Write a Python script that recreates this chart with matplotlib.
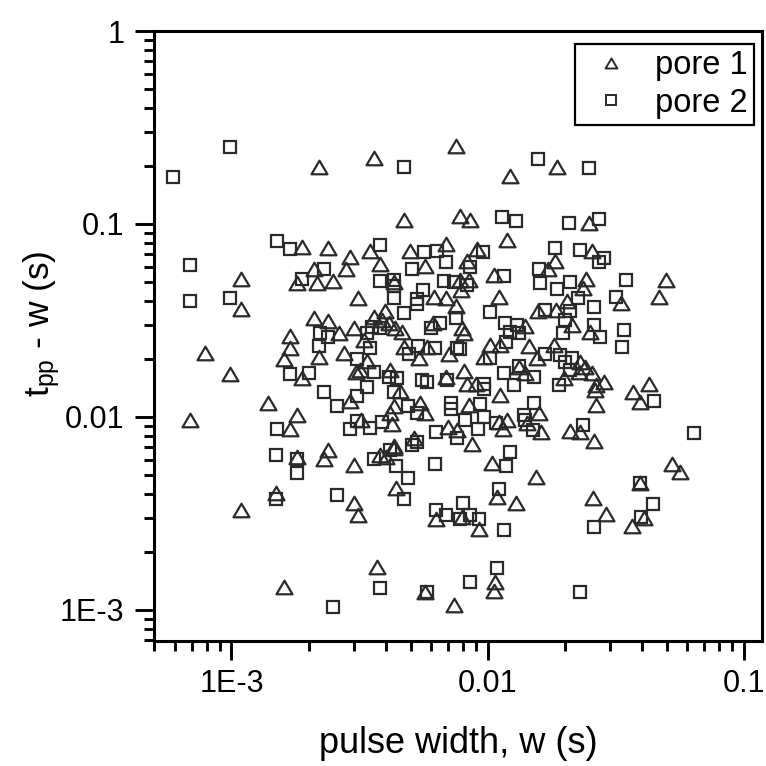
import numpy as np
import matplotlib.pyplot as plt
from matplotlib.lines import Line2D
from matplotlib.path import Path
from matplotlib.ticker import LogLocator, FixedLocator, FuncFormatter, NullFormatter

# pore 1 (triangles): pulse width w (s) and t_pp - w (s)
pore1_w = [
    2.19e-3, 3.59e-3, 7.50e-3, 0.0122, 0.0186, 4.70e-3, 7.77e-3, 8.50e-3, 0.0248,
    1.89e-3, 2.39e-3, 2.89e-3, 1.09e-3, 2.09e-3, 2.79e-3, 1.80e-3, 2.15e-3, 2.48e-3, 3.13e-3,
    1.09e-3, 2.09e-3, 2.39e-3, 2.62e-3, 3.00e-3, 1.69e-3, 1.69e-3, 1.60e-3, 2.19e-3, 2.76e-3,
    7.91e-4, 3.05e-3, 9.90e-4, 1.88e-3, 2.89e-3, 1.39e-3, 6.91e-4, 1.80e-3, 1.69e-3,
    3.46e-3, 4.96e-3, 6.86e-3, 9.06e-3, 0.0119, 3.79e-3, 8.28e-3, 5.67e-3, 0.0172, 0.0183,
    4.29e-3, 7.77e-3, 8.43e-3, 7.85e-3, 0.0106, 6.15e-3, 6.86e-3, 7.50e-3, 0.0111, 3.96e-3,
    3.59e-3, 0.0157, 0.0185, 3.85e-3, 4.10e-3, 4.33e-3, 4.61e-3, 6.10e-3, 7.91e-3, 8.06e-3,
    0.0140, 3.28e-3, 4.70e-3, 5.78e-3, 5.37e-3, 7.04e-3, 0.0102, 0.0112, 0.0145, 0.0181,
    9.64e-3, 0.0155, 3.37e-3, 3.16e-3, 4.14e-3, 6.86e-3, 8.06e-3, 8.28e-3, 0.0132, 0.0140,
    8.98e-3, 4.53e-3, 0.0112, 4.29e-3, 5.42e-3, 5.67e-3, 8.43e-3, 0.0158, 0.0142, 4.14e-3,
    3.19e-3, 4.22e-3, 6.98e-3, 7.57e-3, 0.0111, 0.0119, 0.0115, 0.0161, 5.14e-3, 8.66e-3,
    4.29e-3,
    0.0255, 0.0242, 0.0235, 0.0204, 0.0496, 0.0331, 0.0466, 0.0213, 0.0250, 0.0229,
    0.0239, 0.0227, 0.0255, 0.0198, 0.0284, 0.0264, 0.0262, 0.0368, 0.0426, 0.0393,
    0.0264, 0.0209, 0.0229, 0.0259,
    1.80e-3, 2.39e-3, 2.29e-3, 3.00e-3, 1.49e-3, 3.00e-3, 3.13e-3, 1.09e-3, 1.60e-3,
    3.79e-3, 4.00e-3, 4.29e-3, 0.0104, 0.0154, 4.37e-3, 0.0109, 0.0129, 6.26e-3, 7.91e-3,
    9.22e-3, 3.68e-3, 5.67e-3, 7.36e-3, 0.0107, 0.0106,
    0.0523, 0.0562, 0.0393, 0.0257, 0.0289, 0.0407, 0.0365,
]
pore1_t = [
    0.197, 0.220, 0.254, 0.177, 0.197, 0.105, 0.110, 0.105, 0.101,
    0.0760, 0.0751, 0.0675, 0.0519, 0.0585, 0.0585, 0.0495, 0.0495, 0.0507, 0.0414,
    0.0363, 0.0326, 0.0314, 0.0272, 0.0289, 0.0263, 0.0228, 0.0200, 0.0205, 0.0215,
    0.0215, 0.0171, 0.0167, 0.0159, 0.0121, 0.0118, 0.00964, 0.0102, 0.00867,
    0.0725, 0.0725, 0.0788, 0.0742, 0.0826, 0.0621, 0.0643, 0.0606, 0.0585, 0.0643,
    0.0501, 0.0513, 0.0513, 0.0455, 0.0544, 0.0419, 0.0414, 0.0376, 0.0419, 0.0354,
    0.0330, 0.0354, 0.0359, 0.0318, 0.0307, 0.0289, 0.0276, 0.0307, 0.0289, 0.0272,
    0.0296, 0.0251, 0.0231, 0.0231, 0.0202, 0.0212, 0.0236, 0.0236, 0.0233, 0.0236,
    0.0205, 0.0202, 0.0195, 0.0175, 0.0175, 0.0161, 0.0173, 0.0148, 0.0182, 0.0169,
    0.0148, 0.0136, 0.0130, 0.0114, 0.0118, 0.0105, 0.0115, 0.0105, 0.00931, 0.0105,
    0.00964, 0.00920, 0.00888, 0.00857, 0.00942, 0.00964, 0.00867, 0.00836, 0.00778, 0.00724,
    0.00707,
    0.0725, 0.0519, 0.0466, 0.0399, 0.0513, 0.0390, 0.0419, 0.0300, 0.0276, 0.0193,
    0.0182, 0.0171, 0.0169, 0.0159, 0.0152, 0.0147, 0.0138, 0.0135, 0.0148, 0.0120,
    0.0115, 0.00846, 0.00836, 0.00751,
    0.00621, 0.00675, 0.00606, 0.00564, 0.00404, 0.00358, 0.00311, 0.00330, 0.00132,
    0.00636, 0.00621, 0.00691, 0.00578, 0.00489, 0.00429, 0.00385, 0.00358, 0.00296, 0.00303,
    0.00263, 0.00167, 0.00124, 0.00106, 0.00140, 0.00125,
    0.00571, 0.00519, 0.00455, 0.00380, 0.00314, 0.00300, 0.00272,
]

# pore 2 (squares)
pore2_w = [
    9.90e-4, 5.93e-4, 4.70e-3, 0.0157, 0.0114, 0.0129, 0.0248, 0.0207, 0.0272,
    1.50e-3, 1.69e-3, 6.91e-4, 2.29e-3, 1.88e-3, 6.91e-4, 9.90e-4, 2.21e-3, 2.39e-3, 2.19e-3,
    3.08e-3, 1.69e-3, 2.00e-3, 2.29e-3, 3.08e-3, 2.59e-3, 1.50e-3, 2.89e-3, 3.08e-3,
    3.79e-3, 5.62e-3, 6.32e-3, 9.56e-3, 0.0183, 6.86e-3, 8.50e-3, 5.05e-3, 0.0158, 3.79e-3,
    4.29e-3, 6.73e-3, 7.36e-3, 8.28e-3, 0.0116, 0.0160, 0.0186, 4.29e-3, 5.57e-3, 4.29e-3,
    5.28e-3, 5.28e-3, 4.70e-3, 0.0102, 0.0167, 7.50e-3, 3.52e-3, 3.79e-3, 6.49e-3, 5.99e-3,
    0.0117, 0.0130, 0.0122, 0.0132, 3.37e-3, 3.46e-3, 5.33e-3, 6.21e-3, 4.91e-3, 7.57e-3,
    7.77e-3, 0.0118, 0.0102, 0.0167, 0.0191, 3.59e-3, 4.10e-3, 4.41e-3, 6.92e-3, 5.52e-3,
    5.78e-3, 0.0116, 0.0132, 0.0151, 0.0126, 3.37e-3, 9.64e-3, 9.64e-3, 4.29e-3, 0.0151,
    4.87e-3, 5.28e-3, 7.17e-3, 7.17e-3, 9.31e-3, 9.64e-3, 0.0138, 0.0140, 3.85e-3, 3.46e-3,
    6.26e-3, 7.57e-3, 8.13e-3, 9.14e-3, 0.0108, 0.0150, 5.28e-3,
    0.0229, 0.0272, 0.0284, 0.0209, 0.0225, 0.0209, 0.0259, 0.0346, 0.0316, 0.0200,
    0.0196, 0.0259, 0.0274, 0.0340, 0.0334, 0.0200, 0.0213, 0.0209, 0.0189, 0.0445,
    0.0235, 0.0638,
    1.49e-3, 1.80e-3, 1.80e-3, 1.49e-3, 2.59e-3, 2.50e-3,
    3.59e-3, 4.14e-3, 4.37e-3, 5.05e-3, 0.0122, 0.0118, 6.21e-3, 4.87e-3, 4.70e-3, 0.0111,
    7.99e-3, 6.26e-3, 6.86e-3, 7.77e-3, 8.50e-3, 9.22e-3, 0.0116, 3.79e-3, 5.78e-3, 8.50e-3,
    0.0109,
    0.0393, 0.0441, 0.0259, 0.0396, 0.0229,
]
pore2_t = [
    0.251, 0.175, 0.197, 0.217, 0.109, 0.104, 0.195, 0.101, 0.106,
    0.0817, 0.0742, 0.0613, 0.0585, 0.0519, 0.0399, 0.0414, 0.0272, 0.0260, 0.0233,
    0.0200, 0.0167, 0.0169, 0.0135, 0.0128, 0.0114, 0.00867, 0.00867, 0.00953,
    0.0778, 0.0716, 0.0725, 0.0716, 0.0751, 0.0636, 0.0599, 0.0585, 0.0585, 0.0507,
    0.0513, 0.0507, 0.0501, 0.0483, 0.0538, 0.0495, 0.0461, 0.0477, 0.0455, 0.0414,
    0.0409, 0.0385, 0.0346, 0.0350, 0.0359, 0.0326, 0.0293, 0.0289, 0.0307, 0.0289,
    0.0307, 0.0300, 0.0276, 0.0272, 0.0272, 0.0228, 0.0233, 0.0228, 0.0212, 0.0228,
    0.0225, 0.0245, 0.0202, 0.0212, 0.0209, 0.0171, 0.0161, 0.0159, 0.0155, 0.0155,
    0.0152, 0.0169, 0.0184, 0.0161, 0.0147, 0.0143, 0.0148, 0.0140, 0.0135, 0.0118,
    0.0114, 0.0105, 0.0118, 0.0110, 0.0117, 0.0100, 0.0102, 0.00964, 0.00942, 0.00877,
    0.00836, 0.00778, 0.00964, 0.00867, 0.00931, 0.00857, 0.00742,
    0.0733, 0.0636, 0.0667, 0.0501, 0.0414, 0.0354, 0.0371, 0.0513, 0.0419, 0.0318,
    0.0272, 0.0300, 0.0260, 0.0282, 0.0231, 0.0193, 0.0202, 0.0175, 0.0147, 0.0121,
    0.00909, 0.00826,
    0.00636, 0.00606, 0.00513, 0.00376, 0.00394, 0.00104,
    0.00606, 0.00675, 0.00557, 0.00716, 0.00659, 0.00557, 0.00571, 0.00483, 0.00376, 0.00424,
    0.00358, 0.00330, 0.00311, 0.00296, 0.00311, 0.00296, 0.00260, 0.00130, 0.00124, 0.00140,
    0.00165,
    0.00455, 0.00354, 0.00269, 0.00303, 0.00124,
]

series_labels = ['pore 1', 'pore 2']
tick_text = {1e-3: '1E-3', 1e-2: '0.01', 1e-1: '0.1', 1.0: '1'}

plt.rcParams['font.family'] = ['Liberation Sans', 'DejaVu Sans']
plt.rcParams['mathtext.fontset'] = 'custom'
plt.rcParams['mathtext.rm'] = 'Liberation Sans'
plt.rcParams['mathtext.it'] = 'Liberation Sans'

edge = '#2a2a2a'
# equilateral-ish open triangle like the original
tri = Path([(-1, -0.85), (1, -0.85), (0, 0.85), (-1, -0.85)], closed=True)

fig, ax = plt.subplots(figsize=(7.66, 7.66), dpi=100)
fig.subplots_adjust(left=0.2015, right=0.9948, bottom=0.1636, top=0.9595)

ax.plot(pore1_w, pore1_t, linestyle='none', marker=tri, ms=11.5,
        mfc='none', mec=edge, mew=1.6)
ax.plot(pore2_w, pore2_t, linestyle='none', marker='s', ms=8.5,
        mfc='none', mec=edge, mew=1.6)

ax.set_xscale('log')
ax.set_yscale('log')
ax.set_xlim(5e-4, 0.1175)
ax.set_ylim(6.93e-4, 1)

fmt = FuncFormatter(lambda v, pos: tick_text.get(round(v, 6), ''))
ax.xaxis.set_major_locator(FixedLocator([1e-3, 1e-2, 1e-1]))
ax.yaxis.set_major_locator(FixedLocator([1e-3, 1e-2, 1e-1, 1.0]))
for axis in (ax.xaxis, ax.yaxis):
    axis.set_major_formatter(fmt)
    axis.set_minor_locator(LogLocator(base=10, subs=np.arange(2, 10), numticks=20))
    axis.set_minor_formatter(NullFormatter())

ax.tick_params(which='major', direction='out', length=13.5, width=2.1, labelsize=22)
ax.tick_params(which='minor', direction='out', length=7, width=2.1)
ax.tick_params(axis='x', pad=7)
ax.tick_params(axis='y', pad=8)
for s in ax.spines.values():
    s.set_linewidth(2.2)

ax.set_xlabel('pulse width, w (s)', fontsize=26)
ax.xaxis.set_label_coords(0.5, -0.14)
ax.set_ylabel(r'$\mathregular{t_{pp}}$ - w (s)', fontsize=25.5)
ax.yaxis.set_label_coords(-0.152, 0.52)

handles = [
    Line2D([], [], linestyle='none', marker=tri, ms=8.5, mfc='none', mec=edge, mew=1.4),
    Line2D([], [], linestyle='none', marker='s', ms=7, mfc='none', mec=edge, mew=1.4),
]
leg = ax.legend(handles, series_labels, loc='upper right', bbox_to_anchor=(0.987, 0.979),
                borderaxespad=0, fontsize=23.5, fancybox=False, edgecolor='black',
                framealpha=1, borderpad=0.2, handlelength=1.8, handletextpad=0.45,
                labelspacing=0.2)
leg.get_frame().set_linewidth(1.6)

fig.savefig('out.png', dpi=100)
